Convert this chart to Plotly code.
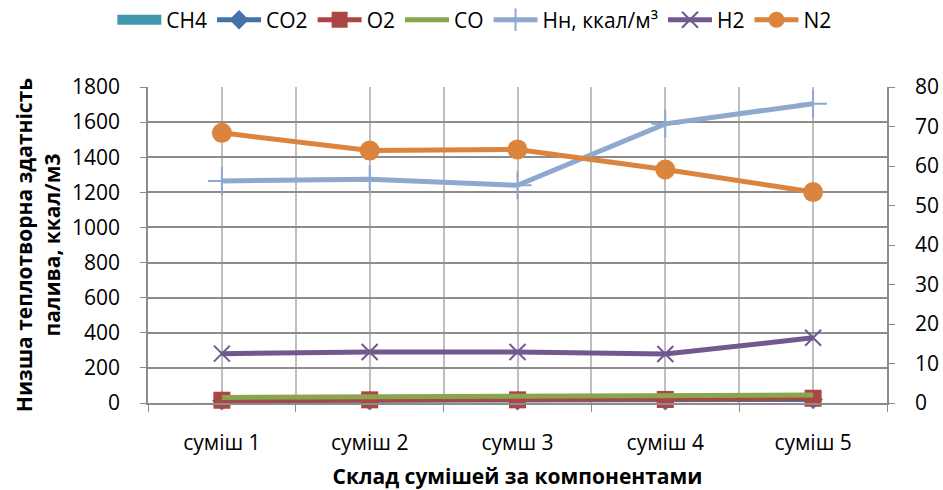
import plotly.graph_objects as go

categories = ["суміш 1", "суміш 2", "сумш 3", "суміш 4", "суміш 5"]
ch4 = [0, 0, 0, 0, 0]
co2 = [0.6, 0.6, 0.6, 0.6, 0.9]
o2 = [0.7, 0.8, 0.8, 0.9, 1.2]
co = [1.4, 1.5, 1.5, 1.6, 2.0]
hn = [1265, 1275, 1240, 1590, 1705]
h2 = [12.5, 12.9, 12.9, 12.4, 16.5]
n2 = [68.4, 63.9, 64.2, 59.1, 53.4]

FONT = "Open Sans, Noto Sans, Liberation Sans, sans-serif"
FS = 21
xs = list(range(len(categories)))

fig = go.Figure()
# CH4 columns (values) + a legend stand-in showing the wide swatch
fig.add_trace(go.Bar(x=xs, y=ch4, name="CH4", marker_color="#4198AF", yaxis="y2",
                     width=0.4, showlegend=False, legendgroup="ch4"))
fig.add_trace(go.Scatter(x=[None], y=[None], name="CH4", yaxis="y2", mode="lines",
                         line=dict(color="#4198AF", width=14), legendgroup="ch4"))
fig.add_trace(go.Scatter(x=xs, y=co2, name="CO2", yaxis="y2", mode="lines+markers",
                         cliponaxis=False,
                         line=dict(color="#4572A7", width=5),
                         marker=dict(symbol="diamond", size=15, color="#4572A7")))
fig.add_trace(go.Scatter(x=xs, y=o2, name="O2", yaxis="y2", mode="lines+markers",
                         cliponaxis=False,
                         line=dict(color="#AA4643", width=5),
                         marker=dict(symbol="square", size=17, color="#AA4643")))
fig.add_trace(go.Scatter(x=xs, y=co, name="CO", yaxis="y2", mode="lines",
                         cliponaxis=False,
                         line=dict(color="#89A54E", width=5)))
fig.add_trace(go.Scatter(x=xs, y=hn, name="Нн, ккал/м³", yaxis="y", mode="lines+markers",
                         line=dict(color="#8FA8D0", width=5),
                         marker=dict(symbol="cross-thin", size=20, color="#8FA8D0",
                                     line=dict(color="#8FA8D0", width=2))))
fig.add_trace(go.Scatter(x=xs, y=h2, name="H2", yaxis="y2", mode="lines+markers",
                         line=dict(color="#71588F", width=5),
                         marker=dict(symbol="x-thin", size=16, color="#71588F",
                                     line=dict(color="#71588F", width=2))))
fig.add_trace(go.Scatter(x=xs, y=n2, name="N2", yaxis="y2", mode="lines+markers",
                         line=dict(color="#DB843D", width=5),
                         marker=dict(symbol="circle", size=20, color="#DB843D")))

fig.update_layout(
    width=943, height=490,
    margin=dict(l=148, r=56, t=87, b=87, autoexpand=False),
    paper_bgcolor="white", plot_bgcolor="white",
    font=dict(family=FONT, size=FS, color="#000000"),
    showlegend=True,
    legend=dict(orientation="h", xref="container", yref="container",
                x=0.503, xanchor="center", y=0.959, yanchor="middle",
                font=dict(size=21), itemwidth=44, tracegroupgap=0),
    xaxis=dict(range=[-0.5, 4.5], tickvals=xs, ticktext=categories,
               showgrid=True, gridcolor="#BFBFBF", gridwidth=1.5,
               showline=True, linecolor="#8C8C8C", linewidth=1.5,
               ticks="", ticklen=0, zeroline=False, ticklabelstandoff=20,
               minor=dict(tick0=-0.5, dtick=1, showgrid=True, gridcolor="#BFBFBF",
                          gridwidth=1.5, ticks="outside", ticklen=7, tickcolor="#8C8C8C"),
               title=dict(text="<b>Склад сумішей за компонентами</b>", font=dict(size=FS),
                          standoff=14),
               tickfont=dict(size=FS)),
    yaxis=dict(range=[0, 1800], dtick=200, showgrid=True, gridcolor="#8C8C8C", gridwidth=1.5,
               showline=True, linecolor="#8C8C8C", linewidth=1.5, ticks="outside",
               ticklen=6, tickcolor="#8C8C8C", zeroline=False, ticklabelstandoff=16,
               title=dict(text="<b>Низша теплотворна здатність<br>палива, ккал/м3</b>",
                          font=dict(size=FS), standoff=6),
               tickfont=dict(size=FS)),
    yaxis2=dict(range=[0, 80], dtick=10, overlaying="y", side="right", showgrid=False,
                showline=True, linecolor="#8C8C8C", linewidth=1.5, ticks="outside",
                ticklen=6, tickcolor="#8C8C8C", zeroline=False, ticklabelstandoff=16,
                tickfont=dict(size=FS)),
    bargap=0.5,
)

fig.write_html("out.html")
